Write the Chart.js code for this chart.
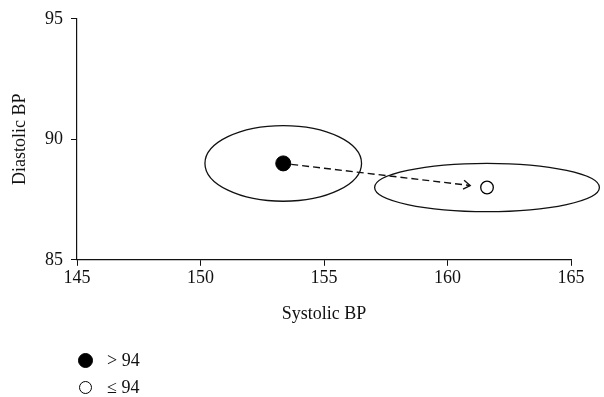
<!DOCTYPE html>
<html>
<head>
<meta charset="utf-8">
<script src="https://cdn.jsdelivr.net/npm/chart.js@4"></script>
<style>
  body { margin: 0; background: #fff; }
  #wrap { position: relative; width: 604px; height: 397px; }
  #legend { position: absolute; left: 78px; top: 347px; font-family: "Liberation Serif", serif; font-size: 18px; color: #111; }
  .item { display: flex; align-items: center; height: 27px; }
  .dot { display: inline-block; box-sizing: border-box; border-radius: 50%; margin-right: 14px; }
</style>
</head>
<body>
<div id="wrap">
  <canvas id="bp" width="604" height="397"></canvas>
  <div id="legend"></div>
</div>
<script>
/*
Data
*/
var groups = ['> 94', '\u2264 94'];
var systolic = [153.35, 161.6];
var diastolic = [89.0, 88.0];
// half-widths of the ellipses around each mean
var spreadSystolic = [3.17, 4.55];
var spreadDiastolic = [1.57, 1.0];
var xTicks = [145, 150, 155, 160, 165];
var yTicks = [85, 90, 95];

var font = { family: '"Liberation Serif", serif', size: 18 };

// ellipses + dashed arrow drawn with the chart's scales
var extras = {
    id: 'extras',
    beforeDatasetsDraw: function (chart) {
        var ctx = chart.ctx;
        var xs = chart.scales.x, ys = chart.scales.y;
        ctx.save();
        ctx.strokeStyle = '#111';
        ctx.lineWidth = 1.3;
        for (var i = 0; i < groups.length; i++) {
            var cx = xs.getPixelForValue(systolic[i]);
            var cy = ys.getPixelForValue(diastolic[i]);
            var rx = Math.abs(xs.getPixelForValue(systolic[i] + spreadSystolic[i]) - cx);
            var ry = Math.abs(ys.getPixelForValue(diastolic[i] + spreadDiastolic[i]) - cy);
            ctx.beginPath();
            ctx.ellipse(cx, cy, rx, ry, 0, 0, Math.PI * 2);
            ctx.stroke();
        }
        // arrow from first group to second
        var x0 = xs.getPixelForValue(systolic[0]), y0 = ys.getPixelForValue(diastolic[0]);
        var x1 = xs.getPixelForValue(systolic[1]), y1 = ys.getPixelForValue(diastolic[1]);
        var len = Math.hypot(x1 - x0, y1 - y0);
        var ux = (x1 - x0) / len, uy = (y1 - y0) / len;
        var sx = x0 + ux * 8, sy = y0 + uy * 8;
        var ex = x1 - ux * 17, ey = y1 - uy * 17;
        ctx.lineWidth = 1.4;
        ctx.setLineDash([7, 4]);
        ctx.beginPath();
        ctx.moveTo(sx, sy);
        ctx.lineTo(ex, ey);
        ctx.stroke();
        ctx.setLineDash([]);
        var a = Math.atan2(uy, ux), h = 8;
        ctx.beginPath();
        ctx.moveTo(ex - h * Math.cos(a - 0.6), ey - h * Math.sin(a - 0.6));
        ctx.lineTo(ex, ey);
        ctx.lineTo(ex - h * Math.cos(a + 0.6), ey - h * Math.sin(a + 0.6));
        ctx.stroke();
        ctx.restore();
    }
};

var styles = [
    { radius: 7.5, fill: '#000', width: 1 },
    { radius: 6.3, fill: '#fff', width: 1.3 }
];

var datasets = groups.map(function (g, i) {
    return {
        label: g,
        data: [{ x: systolic[i], y: diastolic[i] }],
        pointRadius: styles[i].radius,
        pointHoverRadius: styles[i].radius,
        backgroundColor: styles[i].fill,
        borderColor: '#000',
        borderWidth: styles[i].width
    };
});

var ctx = document.getElementById('bp').getContext('2d');
var bpChart = new Chart(ctx, {
    type: 'scatter',
    data: { datasets: datasets },
    options: {
        responsive: false,
        animation: false,
        layout: { padding: { left: 5, right: 33, top: 2, bottom: 72 } },
        plugins: {
            legend: { display: false },
            tooltip: { enabled: false }
        },
        scales: {
            x: {
                min: 145, max: 165,
                afterBuildTicks: function (s) { s.ticks = xTicks.map(function (v) { return { value: v }; }); },
                grid: { display: true, drawOnChartArea: false, drawTicks: true, tickLength: 6, color: '#111' },
                border: { display: true, color: '#111', width: 1.2 },
                ticks: { color: '#111', font: font, padding: 2, maxRotation: 0 },
                title: { display: true, text: 'Systolic BP', color: '#111', font: font, padding: { top: 12, bottom: 0 } }
            },
            y: {
                min: 85, max: 95,
                afterBuildTicks: function (s) { s.ticks = yTicks.map(function (v) { return { value: v }; }); },
                grid: { display: true, drawOnChartArea: false, drawTicks: true, tickLength: 6, color: '#111' },
                border: { display: true, color: '#111', width: 1.2 },
                ticks: { color: '#111', font: font, padding: 8 },
                title: { display: true, text: 'Diastolic BP', color: '#111', font: font, padding: { bottom: 10 } },
                afterFit: function (s) { s.width = 72; }
            }
        }
    },
    plugins: [extras]
});

// legend under the plot
var legend = document.getElementById('legend');
groups.forEach(function (g, i) {
    var item = document.createElement('div');
    item.className = 'item';
    var d = document.createElement('span');
    d.className = 'dot';
    var size = i === 0 ? 15 : 13;
    d.style.width = size + 'px';
    d.style.height = size + 'px';
    d.style.background = styles[i].fill;
    d.style.border = '1.3px solid #000';
    if (i === 1) { d.style.marginLeft = '1px'; d.style.marginRight = '15px'; }
    item.appendChild(d);
    item.appendChild(document.createTextNode(g));
    legend.appendChild(item);
});
</script>
</body>
</html>
